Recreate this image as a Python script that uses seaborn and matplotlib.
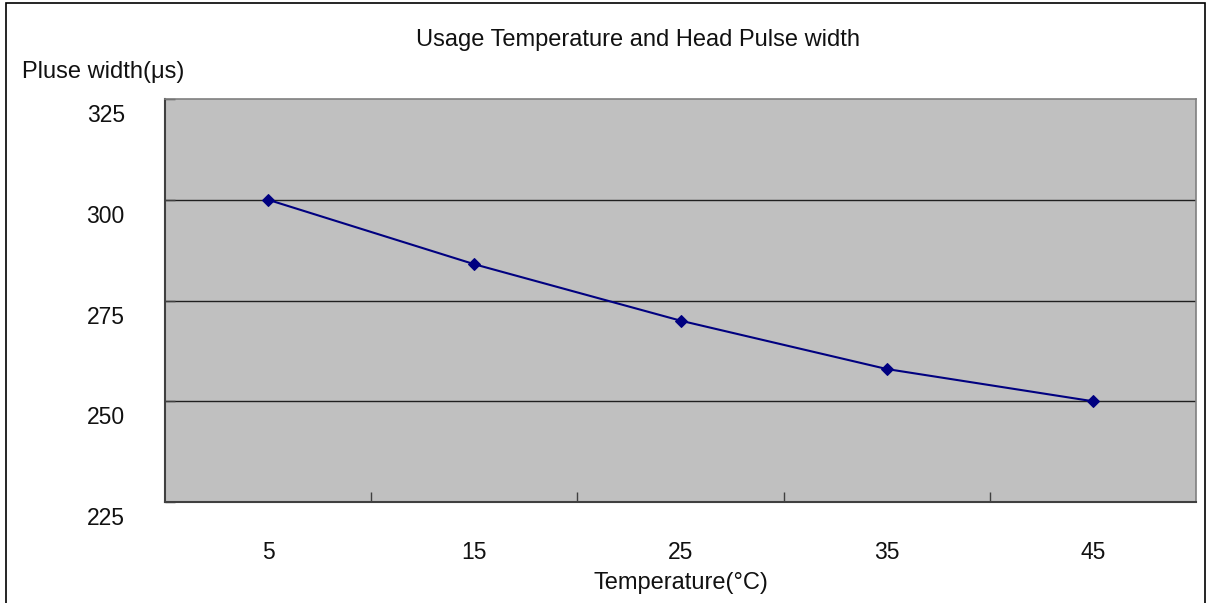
import pandas as pd
import matplotlib
matplotlib.use("Agg")
import matplotlib.pyplot as plt
import seaborn as sns
from matplotlib.patches import Rectangle
from matplotlib.ticker import FixedLocator
from matplotlib.transforms import ScaledTranslation

# data
temperatures = ["5", "15", "25", "35", "45"]
pulse_width = [300, 284, 270, 258, 250]
y_ticks = [225, 250, 275, 300, 325]

df = pd.DataFrame({"Temperature": temperatures, "Pulse": pulse_width})

sns.set_style("white")
plt.rcParams["font.family"] = ["Liberation Sans", "DejaVu Sans"]

fig = plt.figure(figsize=(12.09, 6.03), dpi=100)
ax = fig.add_axes([165 / 1209, 1 - 502 / 603, (1196 - 165) / 1209, (502 - 99) / 603])
ax.set_facecolor("#c0c0c0")

sns.lineplot(data=df, x="Temperature", y="Pulse", ax=ax, color="#000080",
             marker="D", markersize=6, linewidth=1.5, markeredgecolor="#000080")

ax.set_ylim(225, 325)
ax.set_xlim(-0.5, len(temperatures) - 0.5)
ax.set_yticks(y_ticks)
for v in y_ticks[1:-1]:
    ax.axhline(v, color="#202020", linewidth=1, zorder=0.5)

ax.set_xticks(range(len(temperatures)))
ax.set_xticklabels(temperatures)
ax.xaxis.set_minor_locator(FixedLocator([i + 0.5 for i in range(len(temperatures) - 1)]))
ax.tick_params(axis="x", which="major", length=0, pad=28, labelsize=16.5, colors="#111111")
ax.tick_params(axis="x", which="minor", direction="in", length=7, width=1, color="#404040", bottom=True)
ax.tick_params(axis="y", direction="in", length=7, width=1, color="#404040", left=True,
               pad=29, labelsize=16.5, labelcolor="#111111")

# y labels in the reference sit a little below their ticks
shift = ScaledTranslation(0, -0.14, fig.dpi_scale_trans)
for lab in ax.get_yticklabels():
    lab.set_transform(lab.get_transform() + shift)

for s in ["left", "bottom"]:
    ax.spines[s].set_color("#404040")
    ax.spines[s].set_linewidth(1.5)
for s in ["top", "right"]:
    ax.spines[s].set_color("#808080")
    ax.spines[s].set_linewidth(1.2)

ax.set_xlabel("Temperature(°C)", fontsize=17, labelpad=6, color="#111111")
ax.set_ylabel("")

fig.text(22 / 1209, 1 - 78 / 603, "Pluse width(μs)", fontsize=17, ha="left", va="baseline",
         color="#111111")
fig.text(638 / 1209, 1 - 46 / 603, "Usage Temperature and Head Pulse width", fontsize=17,
         ha="center", va="baseline", color="#111111")

fig.patches.append(Rectangle((6 / 1209, -0.05), 1199 / 1209, 1.05 - 3 / 603,
                             transform=fig.transFigure, fill=False, edgecolor="black",
                             linewidth=1.2))

fig.savefig("out.png", dpi=100)
